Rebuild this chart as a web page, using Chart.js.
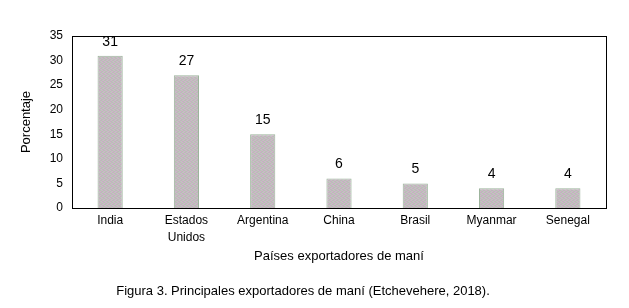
<!DOCTYPE html>
<html>
<head>
<meta charset="utf-8">
<script src="https://cdn.jsdelivr.net/npm/chart.js@4/dist/chart.umd.min.js"></script>
<style>
  html, body { margin: 0; padding: 0; background: #fff; }
  #wrap { width: 629px; height: 308px; }
</style>
</head>
<body>
<div id="wrap"><canvas id="chart" width="629" height="308"></canvas></div>
<script>
// datos
const paises = ['India', ['Estados', 'Unidos'], 'Argentina', 'China', 'Brasil', 'Myanmar', 'Senegal'];
const porcentajes = [31, 27, 15, 6, 5, 4, 4];
const yTicks = [0, 5, 10, 15, 20, 25, 30, 35];

const fuente = "'Liberation Sans', Arial, sans-serif";

// textura punteada de las barras (rosa / verde / gris)
function makePattern() {
    const c = document.createElement('canvas');
    c.width = 4; c.height = 4;
    const g = c.getContext('2d');
    const cols = ['#c9aac4', '#b2c9ae', '#c2bfc1', '#cbb9c7'];
    const orden = [0, 1, 2, 3, 2, 3, 0, 1, 1, 2, 3, 0, 3, 0, 1, 2];
    for (let y = 0; y < 4; y++) {
        for (let x = 0; x < 4; x++) {
            g.fillStyle = cols[orden[y * 4 + x]];
            g.fillRect(x, y, 1, 1);
        }
    }
    return g.createPattern(c, 'repeat');
}

// marco negro alrededor del area de grafico
const frame = {
    id: 'frame',
    afterDraw(chart) {
        const { ctx, chartArea: a } = chart;
        ctx.save();
        ctx.strokeStyle = '#000';
        ctx.lineWidth = 1;
        ctx.strokeRect(Math.round(a.left) + 0.5, Math.round(a.top) + 0.5,
            Math.round(a.right - a.left), Math.round(a.bottom - a.top));
        ctx.restore();
    }
};

// etiquetas de valor encima de cada barra
const valueLabels = {
    id: 'valueLabels',
    afterDatasetsDraw(chart) {
        const { ctx } = chart;
        const meta = chart.getDatasetMeta(0);
        ctx.save();
        ctx.font = '14px ' + fuente;
        ctx.fillStyle = '#000';
        ctx.textAlign = 'center';
        ctx.textBaseline = 'bottom';
        meta.data.forEach((bar, i) => {
            ctx.fillText(String(porcentajes[i]), bar.x, bar.y - 7);
        });
        ctx.restore();
    }
};

const ctx = document.getElementById('chart').getContext('2d');
new Chart(ctx, {
    type: 'bar',
    data: {
        labels: paises,
        datasets: [{
            data: porcentajes,
            backgroundColor: makePattern(),
            borderColor: '#9cb49c',
            borderWidth: 1,
            categoryPercentage: 1,
            barPercentage: 0.33
        }]
    },
    options: {
        responsive: false,
        animation: false,
        layout: { padding: { top: 36, right: 23, left: 0, bottom: 0 } },
        plugins: {
            legend: { display: false },
            tooltip: { enabled: false },
            title: {
                display: true,
                position: 'bottom',
                text: 'Figura 3. Principales exportadores de maní (Etchevehere, 2018).',
                color: '#000',
                font: { family: fuente, size: 13, weight: 'normal', lineHeight: 1.2 },
                padding: { top: 0, bottom: 9 }
            }
        },
        scales: {
            x: {
                grid: { display: false, drawTicks: false },
                border: { display: true, color: '#000' },
                ticks: {
                    color: '#000',
                    font: { family: fuente, size: 12, lineHeight: 1.35 },
                    padding: 5,
                    maxRotation: 0,
                    autoSkip: false
                },
                title: {
                    display: true,
                    text: 'Países exportadores de maní',
                    color: '#000',
                    font: { family: fuente, size: 13 },
                    padding: { top: 4, bottom: 19 }
                },
                afterFit(scale) { scale.height = 75.4; }
            },
            y: {
                min: 0,
                max: 35,
                grid: { display: false, drawTicks: false },
                border: { display: true, color: '#000' },
                afterBuildTicks(scale) {
                    scale.ticks = yTicks.map(v => ({ value: v }));
                },
                ticks: {
                    color: '#000',
                    font: { family: fuente, size: 12 },
                    padding: 9
                },
                title: {
                    display: true,
                    text: 'Porcentaje',
                    color: '#000',
                    font: { family: fuente, size: 13 },
                    padding: { top: 19, bottom: 4 }
                },
                afterFit(scale) { scale.width = 72; }
            }
        }
    },
    plugins: [frame, valueLabels]
});
</script>
</body>
</html>
